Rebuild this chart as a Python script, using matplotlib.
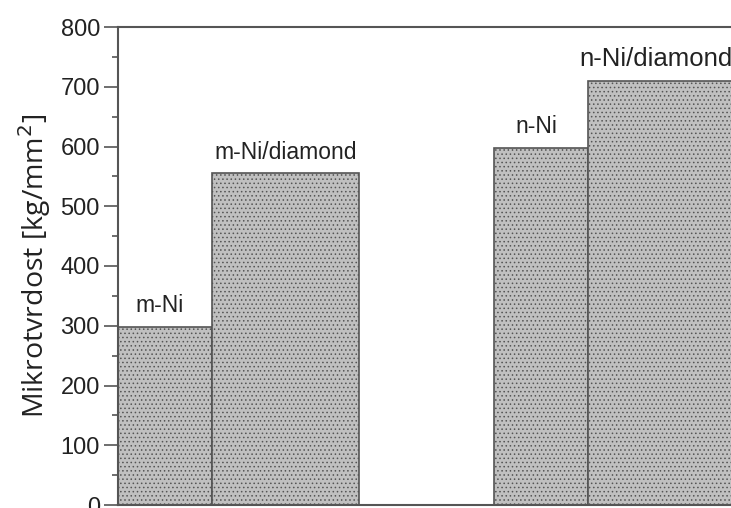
import matplotlib
matplotlib.use("Agg")
import matplotlib.pyplot as plt

categories = ["m-Ni", "m-Ni/diamond", "n-Ni", "n-Ni/diamond"]
values = [298, 555, 598, 710]
lefts = [0.0, 1.0, 4.0, 5.0]
widths = [1.0, 1.56, 1.0, 1.56]
yticks = [0, 100, 200, 300, 400, 500, 600, 700, 800]

# label nudges in points (style only)
label_dx = [-4, 0, -3, -4]
label_fs = [16.5, 16.5, 16.5, 18.5]

plt.rcParams["hatch.color"] = "#b0b0b0"
plt.rcParams["hatch.linewidth"] = 0.6

fig = plt.figure(figsize=(7.31, 5.08), dpi=100)
ax = fig.add_axes([118/731, 3/508, 658/731, 478/508])

ax.bar(lefts, values, width=widths, align="edge", color="#c0c0c0",
       edgecolor="#555555", linewidth=1.2, hatch="....")

for l, w, v, c, dx, fs in zip(lefts, widths, values, categories, label_dx, label_fs):
    ax.annotate(c, (l + w/2, v), xytext=(dx, 7), textcoords="offset points",
                ha="center", va="bottom", fontsize=fs,
                family="Liberation Sans", color="#222222")

ax.set_xlim(0, 7)
ax.set_ylim(0, 800)
ax.set_yticks(yticks)
ax.set_yticks(range(50, 800, 100), minor=True)
ax.set_xticks([])
ax.tick_params(axis="y", which="major", direction="out", length=10, width=1.2,
               color="#555555", labelsize=17, pad=3, labelcolor="#222222")
ax.tick_params(axis="y", which="minor", direction="out", length=4, width=1.2,
               color="#555555")
for lab in ax.get_yticklabels():
    lab.set_family("Liberation Sans")
for s in ["left", "top", "bottom"]:
    ax.spines[s].set_color("#555555")
    ax.spines[s].set_linewidth(1.5)
ax.spines["right"].set_visible(False)

ax.set_ylabel("Mikrotvrdost [kg/mm$^2$]", fontsize=20.5, family="Open Sans",
              color="#222222")
ax.yaxis.set_label_coords(-(118 - 53) / 658, 0.5)

fig.savefig("out.png", dpi=100)
